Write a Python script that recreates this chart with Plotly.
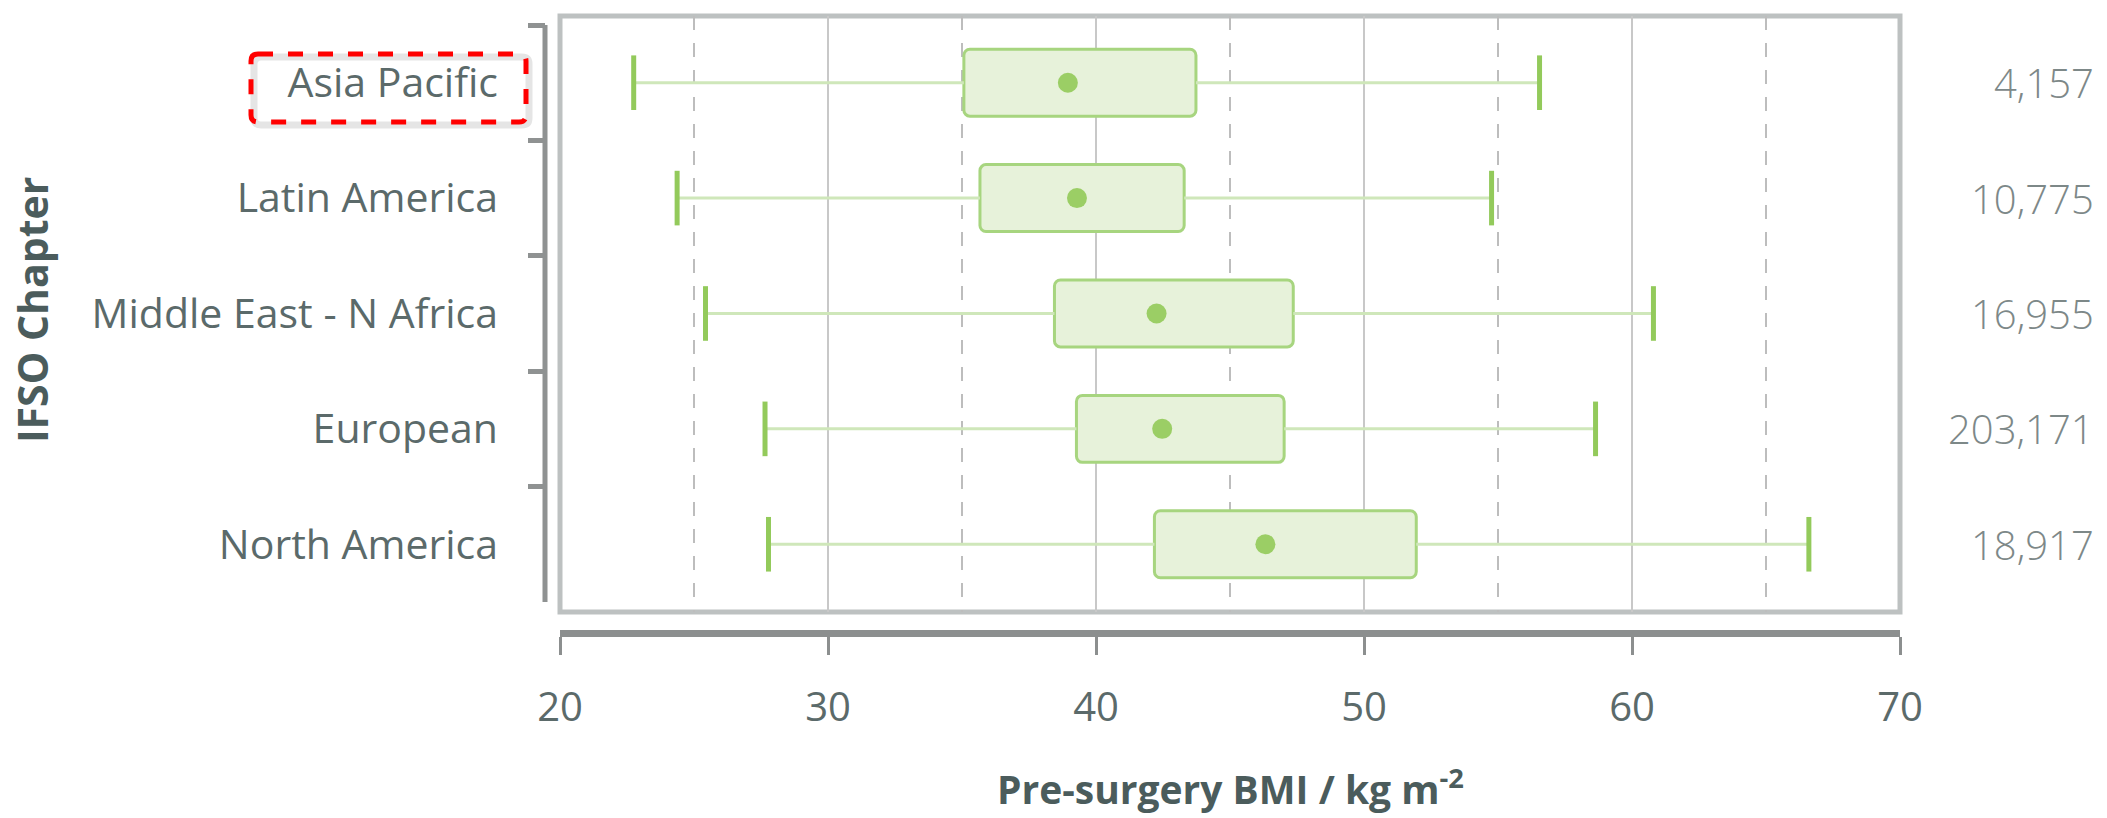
import plotly.graph_objects as go

# ---- data ----
categories = ["Asia Pacific", "Latin America", "Middle East - N Africa", "European", "North America"]
lower_whisker = [22.75, 24.37, 25.43, 27.65, 27.78]
q1 = [35.07, 35.67, 38.45, 39.27, 42.18]
center_dot = [38.95, 39.29, 42.26, 42.47, 46.32]
q3 = [43.73, 43.29, 47.36, 47.02, 51.95]
upper_whisker = [56.55, 54.76, 60.80, 58.64, 66.60]
n_patients = [4157, 10775, 16955, 203171, 18917]
x_major_ticks = [20, 30, 40, 50, 60, 70]
x_minor_grid = [25, 35, 45, 55, 65]
x_title = "Pre-surgery BMI / kg m<sup>-2</sup>"
y_title = "IFSO Chapter"

# ---- styling ----
FONT = "Open Sans"
TXT = "#5b6a6a"
TITLE_C = "#4b5c5c"
W, H = 2107, 818
ML, MR, MT, MB = 10, 10, 10, 10
PW, PH = W - ML - MR, H - MT - MB


def px_x(px):
    return (px - ML) / PW


def px_y(py):
    return (H - MB - py) / PH


fig = go.Figure()

# whiskers (fence -> quartile)
wx, wy = [], []
for c, lo, a, b, hi in zip(categories, lower_whisker, q1, q3, upper_whisker):
    wx += [lo, a, None, b, hi, None]
    wy += [c, c, None, c, c, None]
fig.add_trace(go.Scatter(x=wx, y=wy, mode="lines",
                         line=dict(color="#cfe7ba", width=3),
                         hoverinfo="skip", showlegend=False))

# interquartile boxes
fig.add_trace(go.Bar(y=categories, x=[b - a for a, b in zip(q1, q3)], base=q1,
                     orientation="h", width=0.58,
                     marker=dict(color="#e7f2da", line=dict(color="#a7d57f", width=3)),
                     showlegend=False))

# whisker end caps
fig.add_trace(go.Scatter(x=lower_whisker + upper_whisker, y=categories + categories,
                         mode="markers",
                         marker=dict(symbol="line-ns", size=39,
                                     line=dict(color="#93ca5b", width=5)),
                         showlegend=False))

# centre dots
fig.add_trace(go.Scatter(x=center_dot, y=categories, mode="markers",
                         marker=dict(size=20, color="#9bce65"),
                         showlegend=False))

x_dom = [px_x(560), px_x(1900)]
y_dom = [px_y(612), px_y(16)]
y_axis_pos = px_x(545)

fig.update_layout(
    width=W, height=H,
    margin=dict(l=ML, r=MR, t=MT, b=MB, autoexpand=False),
    paper_bgcolor="white", plot_bgcolor="white",
    showlegend=False,
    barcornerradius=6,
    font=dict(family=FONT, color=TXT),
    xaxis=dict(
        range=[20, 70], domain=x_dom, anchor="free", position=px_y(633),
        automargin=False,
        tickvals=x_major_ticks, ticks="outside", ticklen=18, tickwidth=3,
        tickcolor="#8c8f8f", showline=True, linecolor="#8c8f8f", linewidth=7,
        tickfont=dict(family=FONT, size=40, color=TXT), ticklabelstandoff=18,
        showgrid=True, gridcolor="#c8c8c8", gridwidth=2, zeroline=False,
        minor=dict(tickvals=x_minor_grid, showgrid=True, gridcolor="#bdbdbd",
                   gridwidth=2, griddash="14px,13px", ticks=""),
    ),
    yaxis=dict(
        type="category", categoryorder="array", categoryarray=categories,
        range=[4.587, -0.578], domain=y_dom, anchor="free", position=y_axis_pos,
        automargin=False,
        tickson="boundaries", ticks="outside", ticklen=17, tickwidth=5,
        tickcolor="#8f9292", showline=False, showgrid=False, zeroline=False,
        tickfont=dict(family=FONT, size=41, color=TXT), ticklabelstandoff=47,
    ),
)

# plot frame
fig.add_shape(type="rect", xref="x domain", yref="y domain", x0=0, x1=1, y0=0, y1=1,
              line=dict(color="#bdc1c1", width=5), layer="below")
# category bracket line
fig.add_shape(type="line", xref="paper", yref="y", x0=y_axis_pos, x1=y_axis_pos,
              y0=-0.5, y1=len(categories) - 0.5,
              line=dict(color="#8f9292", width=5))


# red rounded dashed highlight around the first category label
def rounded_rect(x0, x1, y0, y1, rx, ry):
    return (f"M{x0 + rx},{y1} L{x1 - rx},{y1} Q{x1},{y1} {x1},{y1 - ry} "
            f"L{x1},{y0 + ry} Q{x1},{y0} {x1 - rx},{y0} "
            f"L{x0 + rx},{y0} Q{x0},{y0} {x0},{y0 + ry} "
            f"L{x0},{y1 - ry} Q{x0},{y1} {x0 + rx},{y1} Z")


bx0, bx1, by0, by1 = px_x(251), px_x(526), px_y(122), px_y(54)
rx, ry = 7 / PW, 7 / PH
sx, sy = 3 / PW, 3 / PH
fig.add_shape(type="path", xref="paper", yref="paper",
              path=rounded_rect(bx0 + sx, bx1 + sx, by0 - sy, by1 - sy, rx, ry),
              line=dict(color="rgba(0,0,0,0.10)", width=7))
fig.add_shape(type="path", xref="paper", yref="paper",
              path=rounded_rect(bx0, bx1, by0, by1, rx, ry),
              line=dict(color="#ff0000", width=5, dash="dash"))

# n per chapter on the right
for c, n in zip(categories, n_patients):
    fig.add_annotation(x=px_x(2096), y=c, xref="paper", yref="y", text=f"{n:,}",
                       showarrow=False, xanchor="right", yanchor="middle",
                       font=dict(family=FONT, size=40, color="#7d8888", weight=300))

# axis titles
fig.add_annotation(x=px_x(32), y=px_y(310), xref="paper", yref="paper", text=y_title,
                   textangle=-90, showarrow=False, xanchor="center", yanchor="middle",
                   font=dict(family=FONT, size=41, color=TITLE_C, weight="bold"))
fig.add_annotation(x=(x_dom[0] + x_dom[1]) / 2, y=px_y(787), xref="paper", yref="paper",
                   text=x_title, showarrow=False, xanchor="center", yanchor="middle",
                   font=dict(family=FONT, size=39, color=TITLE_C, weight="bold"))

fig.write_html("out.html", config={"displayModeBar": False},
               post_script="document.body.style.margin='0';document.body.style.overflow='hidden';")
